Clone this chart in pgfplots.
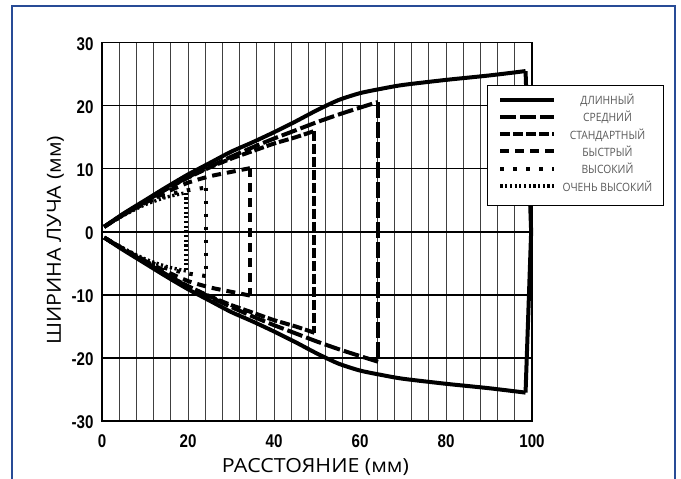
\documentclass[border=0pt]{standalone}
\usepackage{fontspec}
\setmainfont{Open Sans}
\newfontfamily\tickfont[FakeStretch=0.82]{Liberation Sans}
\newfontfamily\legfont[FakeStretch=0.9]{Open Sans}
\newfontfamily\labfont[FakeStretch=1.1]{Open Sans}
\usepackage{pgfplots}
\pgfplotsset{compat=1.18}
\definecolor{framecol}{RGB}{40,75,150}
\definecolor{legtext}{RGB}{89,89,89}
\begin{document}
\begin{tikzpicture}
\useasboundingbox (0,0) rectangle (681bp,479bp);
\draw[line width=2bp, framecol] (12bp,-5bp) -- (12bp,472.5bp) -- (675bp,472.5bp) -- (675bp,-5bp);
\begin{axis}[
  at={(102bp,58bp)}, anchor=south west,
  scale only axis, width=430bp, height=378.3bp,
  xmin=0, xmax=100, ymin=-30, ymax=30,
  xtick={0,20,...,100}, minor xtick={0,4,...,100},
  ytick={-30,-20,...,30},
  grid=both,
  x grid style={black!75, line width=0.9bp},
  y grid style={black, line width=1.4bp},
  axis line style={black, line width=1.4bp},
  major tick length=0pt, minor tick length=0pt,
  /pgf/number format/assume math mode=true,
  ticklabel style={font=\tickfont\bfseries\fontsize{18.5}{19}\selectfont},
  yticklabel style={xshift=-5bp, yshift=-1.5bp},
  xticklabel style={yshift=-10bp},
  xlabel={РАССТОЯНИЕ (мм)},
  ylabel={ШИРИНА ЛУЧА (мм)},
  label style={font=\labfont\fontsize{19.5}{22}\selectfont},
  xlabel style={at={(axis description cs:0.4965,-0.122)}, anchor=center},
  ylabel style={at={(axis description cs:-0.108,0.478)}, anchor=center},
  clip=false,
  legend image code/.code={\draw[#1, line cap=butt] (0bp,2.5bp) -- (54bp,2.5bp);},
  legend style={at={(axis description cs:0.8953,0.888)}, anchor=north west,
    draw=black, line width=1bp, fill=white, inner xsep=11bp, inner ysep=11bp,
    row sep=6.3bp, column sep=6bp,
    nodes={inner sep=0pt, text height=8bp, text depth=3bp, text=legtext,
      font=\legfont\fontsize{11.5}{12}\selectfont}},
  every axis plot/.append style={black, line width=4bp, line join=miter},
]
% ДЛИННЫЙ
\addplot[solid, smooth, tension=0.4] coordinates {(0.5,0.8) (5,2.9) (10,5.0) (15,7.1) (20,9.1) (25,10.9) (30,12.7) (35,14.2) (40,15.8) (45,17.5) (50,19.3) (55,20.9) (60,22.0) (65,22.7) (70,23.3) (80,24.1) (90,24.8) (98.5,25.5)};
\addlegendentry{\makebox[90bp]{ДЛИННЫЙ}}
\addplot[solid, forget plot] coordinates {(98.5,25.5) (99.8,0) (98.5,-25.5)};
\addplot[solid, smooth, tension=0.4, forget plot] coordinates {(98.5,-25.5) (90,-24.8) (80,-24.1) (70,-23.3) (65,-22.7) (60,-22.0) (55,-20.9) (50,-19.3) (45,-17.5) (40,-15.8) (35,-14.2) (30,-12.7) (25,-10.9) (20,-9.1) (15,-7.1) (10,-5.0) (5,-2.9) (0.5,-0.9)};
% СРЕДНИЙ
\addplot[dash pattern=on 16bp off 4bp, smooth, tension=0.4] coordinates {(0.5,0.8) (5,2.8) (10,4.8) (15,6.8) (20,8.7) (25,10.3) (30,11.9) (35,13.4) (40,14.8) (45,16.1) (50,17.4) (55,18.6) (60,19.7) (64.2,20.6)};
\addlegendentry{\makebox[90bp]{СРЕДНИЙ}}
\addplot[dash pattern=on 16bp off 4bp, forget plot] coordinates {(64.2,20.6) (64.2,-20.6)};
\addplot[dash pattern=on 16bp off 4bp, smooth, tension=0.4, forget plot] coordinates {(64.2,-20.6) (60,-19.7) (55,-18.6) (50,-17.4) (45,-16.1) (40,-14.8) (35,-13.4) (30,-11.9) (25,-10.3) (20,-8.7) (15,-6.8) (10,-4.8) (5,-2.8) (0.5,-0.9)};
% СТАНДАРТНЫЙ
\addplot[dash pattern=on 10bp off 3bp, smooth, tension=0.4] coordinates {(0.5,0.8) (5,2.8) (10,4.8) (15,6.8) (20,8.6) (25,10.2) (30,11.6) (35,12.8) (40,14.0) (45,15.0) (49.4,16.0)};
\addlegendentry{\makebox[90bp]{СТАНДАРТНЫЙ}}
\addplot[dash pattern=on 10bp off 3bp, forget plot] coordinates {(49.4,16.0) (49.4,-16.0)};
\addplot[dash pattern=on 10bp off 3bp, smooth, tension=0.4, forget plot] coordinates {(49.4,-16.0) (45,-15.0) (40,-14.0) (35,-12.8) (30,-11.6) (25,-10.2) (20,-8.6) (15,-6.8) (10,-4.8) (5,-2.8) (0.5,-0.9)};
% БЫСТРЫЙ
\addplot[dash pattern=on 9bp off 6bp, smooth, tension=0.4] coordinates {(0.5,0.8) (5,2.7) (10,4.6) (15,6.3) (20,7.8) (25,8.8) (30,9.5) (34.4,10.1)};
\addlegendentry{\makebox[90bp]{БЫСТРЫЙ}}
\addplot[dash pattern=on 9bp off 6bp, forget plot] coordinates {(34.4,10.1) (34.4,-10.1)};
\addplot[dash pattern=on 9bp off 6bp, smooth, tension=0.4, forget plot] coordinates {(34.4,-10.1) (30,-9.5) (25,-8.8) (20,-7.8) (15,-6.3) (10,-4.6) (5,-2.7) (0.5,-0.9)};
% ВЫСОКИЙ
\addplot[dash pattern=on 3.5bp off 9.5bp, smooth, tension=0.4] coordinates {(0.5,0.8) (5,2.7) (10,4.5) (15,5.8) (20,6.6) (24.1,7.0)};
\addlegendentry{\makebox[90bp]{ВЫСОКИЙ}}
\addplot[dash pattern=on 3.5bp off 9.5bp, forget plot] coordinates {(24.1,7.0) (24.1,-7.0)};
\addplot[dash pattern=on 3.5bp off 9.5bp, smooth, tension=0.4, forget plot] coordinates {(24.1,-7.0) (20,-6.6) (15,-5.8) (10,-4.5) (5,-2.7) (0.5,-0.9)};
% ОЧЕНЬ ВЫСОКИЙ
\addplot[dash pattern=on 2.2bp off 2.5bp, line width=3.4bp, smooth, tension=0.4] coordinates {(0.5,0.8) (5,2.6) (10,4.3) (15,5.5) (19.5,6.2)};
\addlegendentry{\makebox[90bp]{ОЧЕНЬ ВЫСОКИЙ}}
\addplot[dash pattern=on 2.2bp off 2.5bp, line width=3.4bp, forget plot] coordinates {(19.5,6.2) (19.5,-6.2)};
\addplot[dash pattern=on 2.2bp off 2.5bp, line width=3.4bp, smooth, tension=0.4, forget plot] coordinates {(19.5,-6.2) (15,-5.5) (10,-4.3) (5,-2.6) (0.5,-0.9)};
\end{axis}
\end{tikzpicture}
\end{document}
